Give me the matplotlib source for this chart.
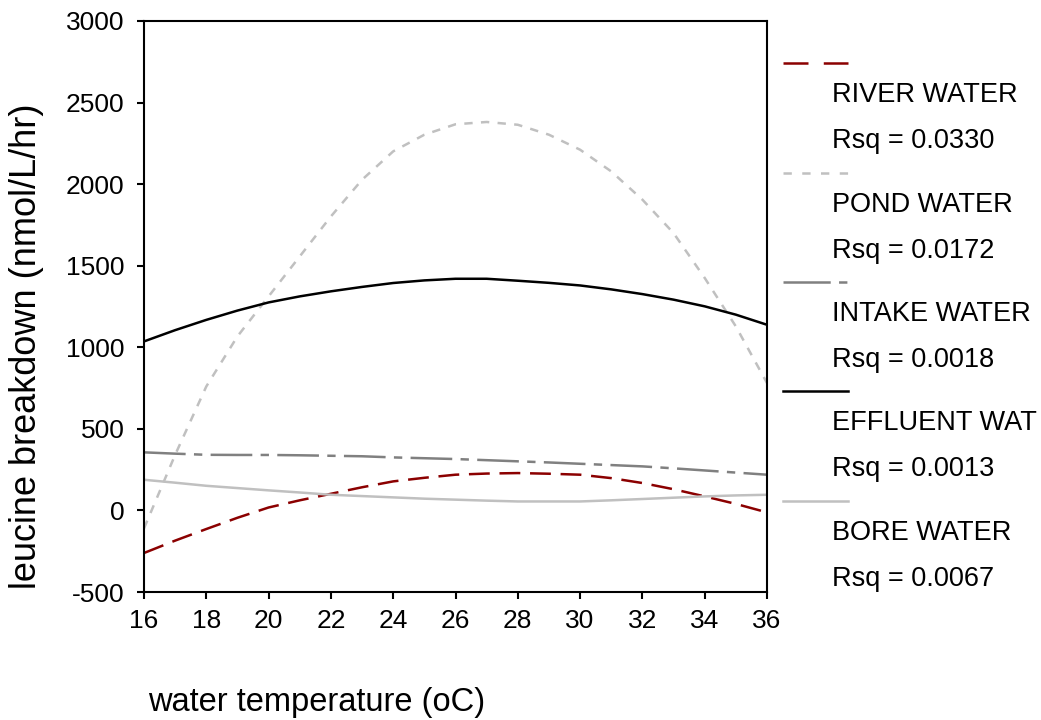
import matplotlib.pyplot as plt
from matplotlib.lines import Line2D

plt.rcParams['font.family'] = ['Liberation Sans', 'DejaVu Sans']
plt.rcParams['axes.unicode_minus'] = False
plt.rcParams['lines.scale_dashes'] = False

# fitted curves
temp = [16, 17, 18, 19, 20, 21, 22, 23, 24, 25, 26, 27, 28, 29, 30, 31, 32, 33, 34, 35, 36]
river = [-261, -185, -114, -45, 18, 62, 102, 142, 178, 200, 219, 226, 229, 225, 219, 198, 168, 130, 86, 40, -12]
pond = [-110, 341, 760, 1067, 1312, 1557, 1802, 2027, 2201, 2303, 2367, 2381, 2364, 2303, 2211, 2078, 1905, 1700, 1425, 1128, 781]
intake = [356, 348, 341, 340, 340, 338, 335, 332, 325, 320, 315, 308, 301, 294, 286, 278, 270, 258, 245, 232, 219]
effluent = [1036, 1105, 1168, 1225, 1275, 1312, 1343, 1370, 1394, 1410, 1420, 1420, 1408, 1395, 1379, 1355, 1326, 1292, 1251, 1200, 1138]
bore = [188, 170, 151, 137, 123, 110, 96, 88, 80, 72, 66, 60, 55, 55, 55, 62, 70, 78, 86, 92, 96]

names = ['RIVER WATER', 'POND WATER', 'INTAKE WATER', 'EFFLUENT WAT', 'BORE WATER']
rsq = ['0.0330', '0.0172', '0.0018', '0.0013', '0.0067']
series = [river, pond, intake, effluent, bore]
colors = ['#8b0000', '#c0c0c0', '#808080', '#000000', '#c0c0c0']
dashes = [(15, 7), (6, 6), (30, 6, 6, 6), None, None]
# the legend samples are short, so they get their own patterns
key_dashes = [(18, 11), (6, 7.5), (34, 6, 6, 20), None, None]

W, H = 1041, 720
fig = plt.figure(figsize=(W / 100, H / 100), dpi=100)
ax = fig.add_axes([144 / W, 1 - 592 / H, (767 - 144) / W, (592 - 21) / H])

for ys, c, d in zip(series, colors, dashes):
    line, = ax.plot(temp, ys, color=c, lw=1.8)
    if d:
        line.set_dashes(d)

ax.set_xlim(16, 36)
ax.set_ylim(-500, 3000)
ax.set_xticks(range(16, 37, 2))
ax.set_yticks(range(-500, 3001, 500))
for s in ax.spines.values():
    s.set_linewidth(1.5)
ax.tick_params(direction='out', length=5, width=1.5, labelsize=19)
ax.tick_params(axis='y', pad=9)
ax.tick_params(axis='x', pad=7)

fig.text(148 / W, 1 - 703 / H, 'water temperature (oC)', fontsize=23.5,
         ha='left', va='center')
fig.text(27 / W, 1 - 346 / H, 'leucine breakdown (nmol/L/hr)', fontsize=26,
         rotation=90, ha='center', va='center')

# legend laid out like the original: sample line, name, Rsq on three rows
for i, (n, r, c, d) in enumerate(zip(names, rsq, colors, key_dashes)):
    y0 = 63 + i * 109.5
    yy = 1 - y0 / H
    ln = Line2D([783 / W, 848 / W], [yy, yy], transform=fig.transFigure,
                color=c, lw=1.8)
    if d:
        ln.set_dashes(d)
    fig.add_artist(ln)
    fig.text(832 / W, 1 - (y0 + 32) / H, n, fontsize=19.5, va='center')
    fig.text(832 / W, 1 - (y0 + 78) / H, 'Rsq = ' + r, fontsize=19.5, va='center')

fig.savefig('out.png', dpi=100)
